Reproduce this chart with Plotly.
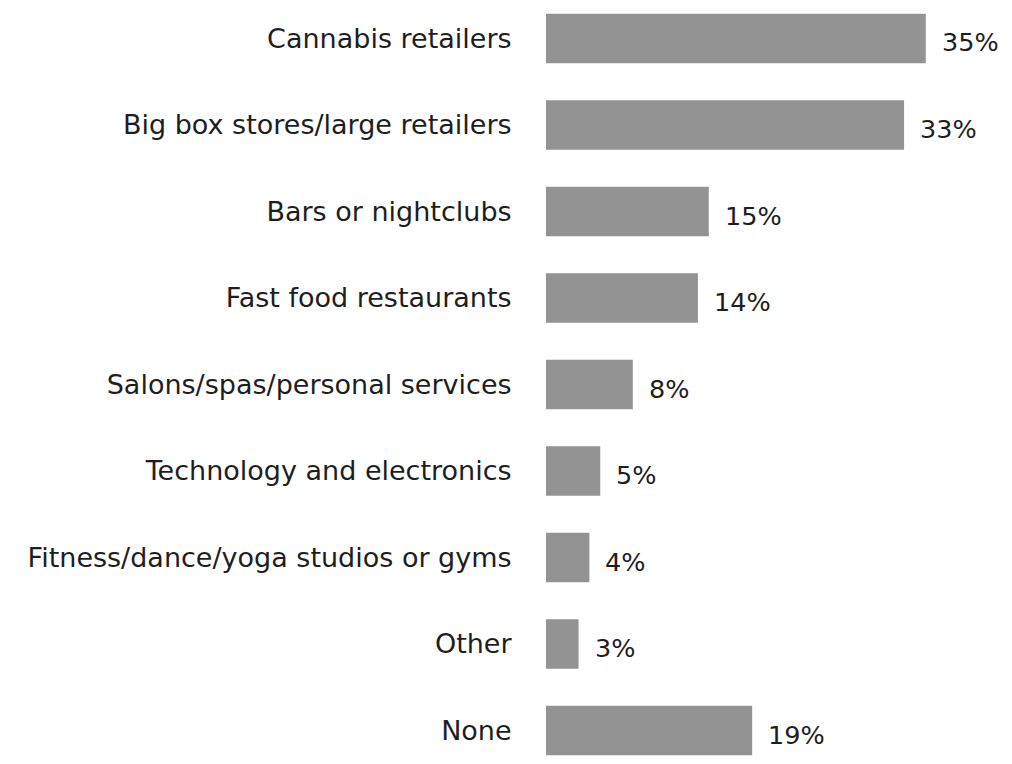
import plotly.graph_objects as go

categories = [
    "Cannabis retailers",
    "Big box stores/large retailers",
    "Bars or nightclubs",
    "Fast food restaurants",
    "Salons/spas/personal services",
    "Technology and electronics",
    "Fitness/dance/yoga studios or gyms",
    "Other",
    "None",
]
values = [35, 33, 15, 14, 8, 5, 4, 3, 19]
value_labels = [f"{v}%" for v in values]

BAR_COLOR = "#939393"
TEXT_COLOR = "#1e1e1e"
FONT = "DejaVu Sans"

fig = go.Figure(
    go.Bar(
        x=values,
        y=categories,
        orientation="h",
        marker=dict(color=BAR_COLOR, line=dict(width=0)),
        width=0.572,
        hoverinfo="skip",
    )
)

for cat, v, lab in zip(categories, values, value_labels):
    fig.add_annotation(
        x=v, y=cat, text=lab, showarrow=False,
        xanchor="left", yanchor="middle", xshift=14, yshift=-4,
        font=dict(family=FONT, size=25.5, color=TEXT_COLOR),
    )

fig.update_layout(
    width=1012, height=764,
    margin=dict(l=546, r=3, t=0, b=0),
    plot_bgcolor="white", paper_bgcolor="white",
    showlegend=False,
    font=dict(family=FONT, size=27, color=TEXT_COLOR),
)
fig.update_xaxes(range=[0, 42.67], visible=False, fixedrange=True)
fig.update_yaxes(
    categoryorder="array", categoryarray=categories,
    range=[8.387, -0.445],
    showgrid=False, zeroline=False, showline=False,
    ticks="outside", ticklen=28, tickcolor="rgba(0,0,0,0)",
    tickfont=dict(family=FONT, size=27, color=TEXT_COLOR),
    automargin=False, fixedrange=True,
)

fig.write_html("out.html")
